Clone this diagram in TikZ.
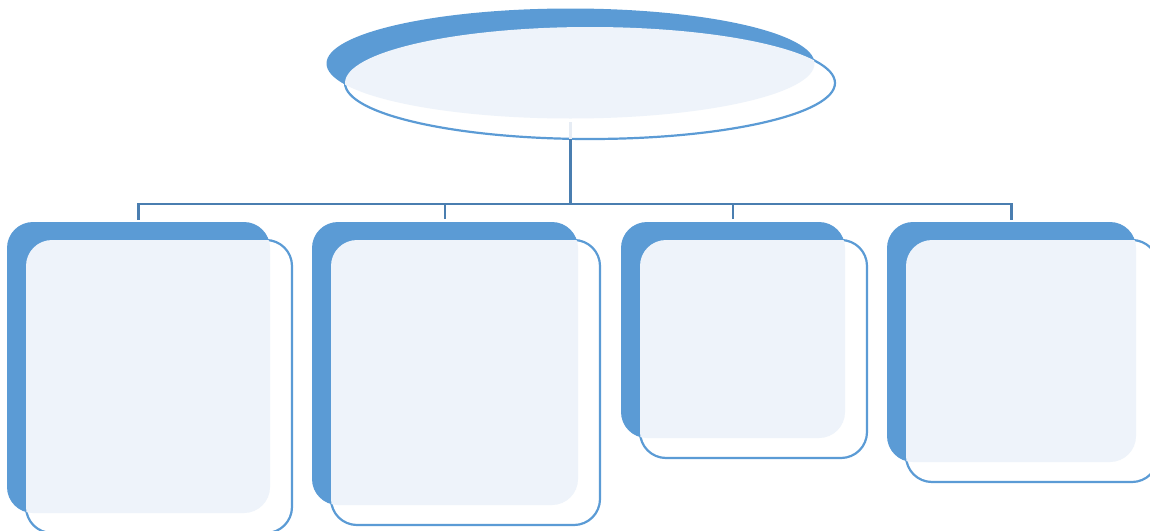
\documentclass[tikz,border=0pt]{standalone}
\usetikzlibrary{shapes.geometric,calc}
\definecolor{accent}{HTML}{5B9BD5}
\definecolor{pale}{HTML}{EEF3FA}
\definecolor{linkc}{HTML}{4A7EB0}
\definecolor{ghost}{HTML}{E6ECF4}
\begin{document}
\begin{tikzpicture}[x=1pt,y=-1pt,
  backbox/.style={rectangle,rounded corners=26pt,fill=accent,inner sep=0pt,outer sep=0pt,anchor=north west},
  frontbox/.style={rectangle,rounded corners=26pt,fill=white,draw=accent,line width=2.2pt,inner sep=0pt,outer sep=0pt,anchor=north west},
  backoval/.style={ellipse,fill=accent,inner sep=0pt,outer sep=0pt,minimum width=488pt,minimum height=110pt},
  frontoval/.style={ellipse,fill=white,draw=accent,line width=2.2pt,inner sep=0pt,outer sep=0pt,minimum width=490pt,minimum height=112pt},
  link/.style={draw=linkc,line width=2.4pt}]
\useasboundingbox (0,0) rectangle (1150,530);

% top oval
\node[backoval] (e0) at (570.5,63.5) {};
\node[frontoval] (e1) at (590,83) {};
\begin{scope}
  \clip (e0.center) ellipse [x radius=244pt, y radius=55pt];
  \fill[pale] (e1.center) ellipse [x radius=245pt, y radius=56pt];
\end{scope}

% boxes
\foreach \n/\x/\w/\h in {1/7/263/291, 2/312/266/283, 3/621/224/216, 4/887/249/240}{
  \node[backbox,minimum width=\w pt,minimum height=\h pt] (b\n) at (\x,222) {};
  \node[frontbox,minimum width=\w pt+3pt,minimum height=\h pt+2pt] (f\n) at (\x+19,240) {};
  \begin{scope}
    \clip[rounded corners=26pt] (b\n.north west) rectangle (b\n.south east);
    \fill[pale,rounded corners=26pt] (f\n.north west) rectangle (f\n.south east);
  \end{scope}
}

% connectors
\coordinate (hub) at (570.5,204);
\coordinate (ovalbase) at (570.5,139);
\coordinate (ghosttop) at (570.5,122);
\draw[ghost,line width=2.2pt] (ghosttop) -- (ovalbase);
\draw[link] (ovalbase) -- (hub);
\draw[link,line cap=rect] ($(b1.north)+(0,-3)$) |- (hub) -| ($(b4.north)+(0,-3)$);
\draw[link] ($(b2.north)+(0,-3)$) -- ($(b2.north)+(0,-18)$);
\draw[link] ($(b3.north)+(0,-3)$) -- ($(b3.north)+(0,-18)$);
\end{tikzpicture}
\end{document}
